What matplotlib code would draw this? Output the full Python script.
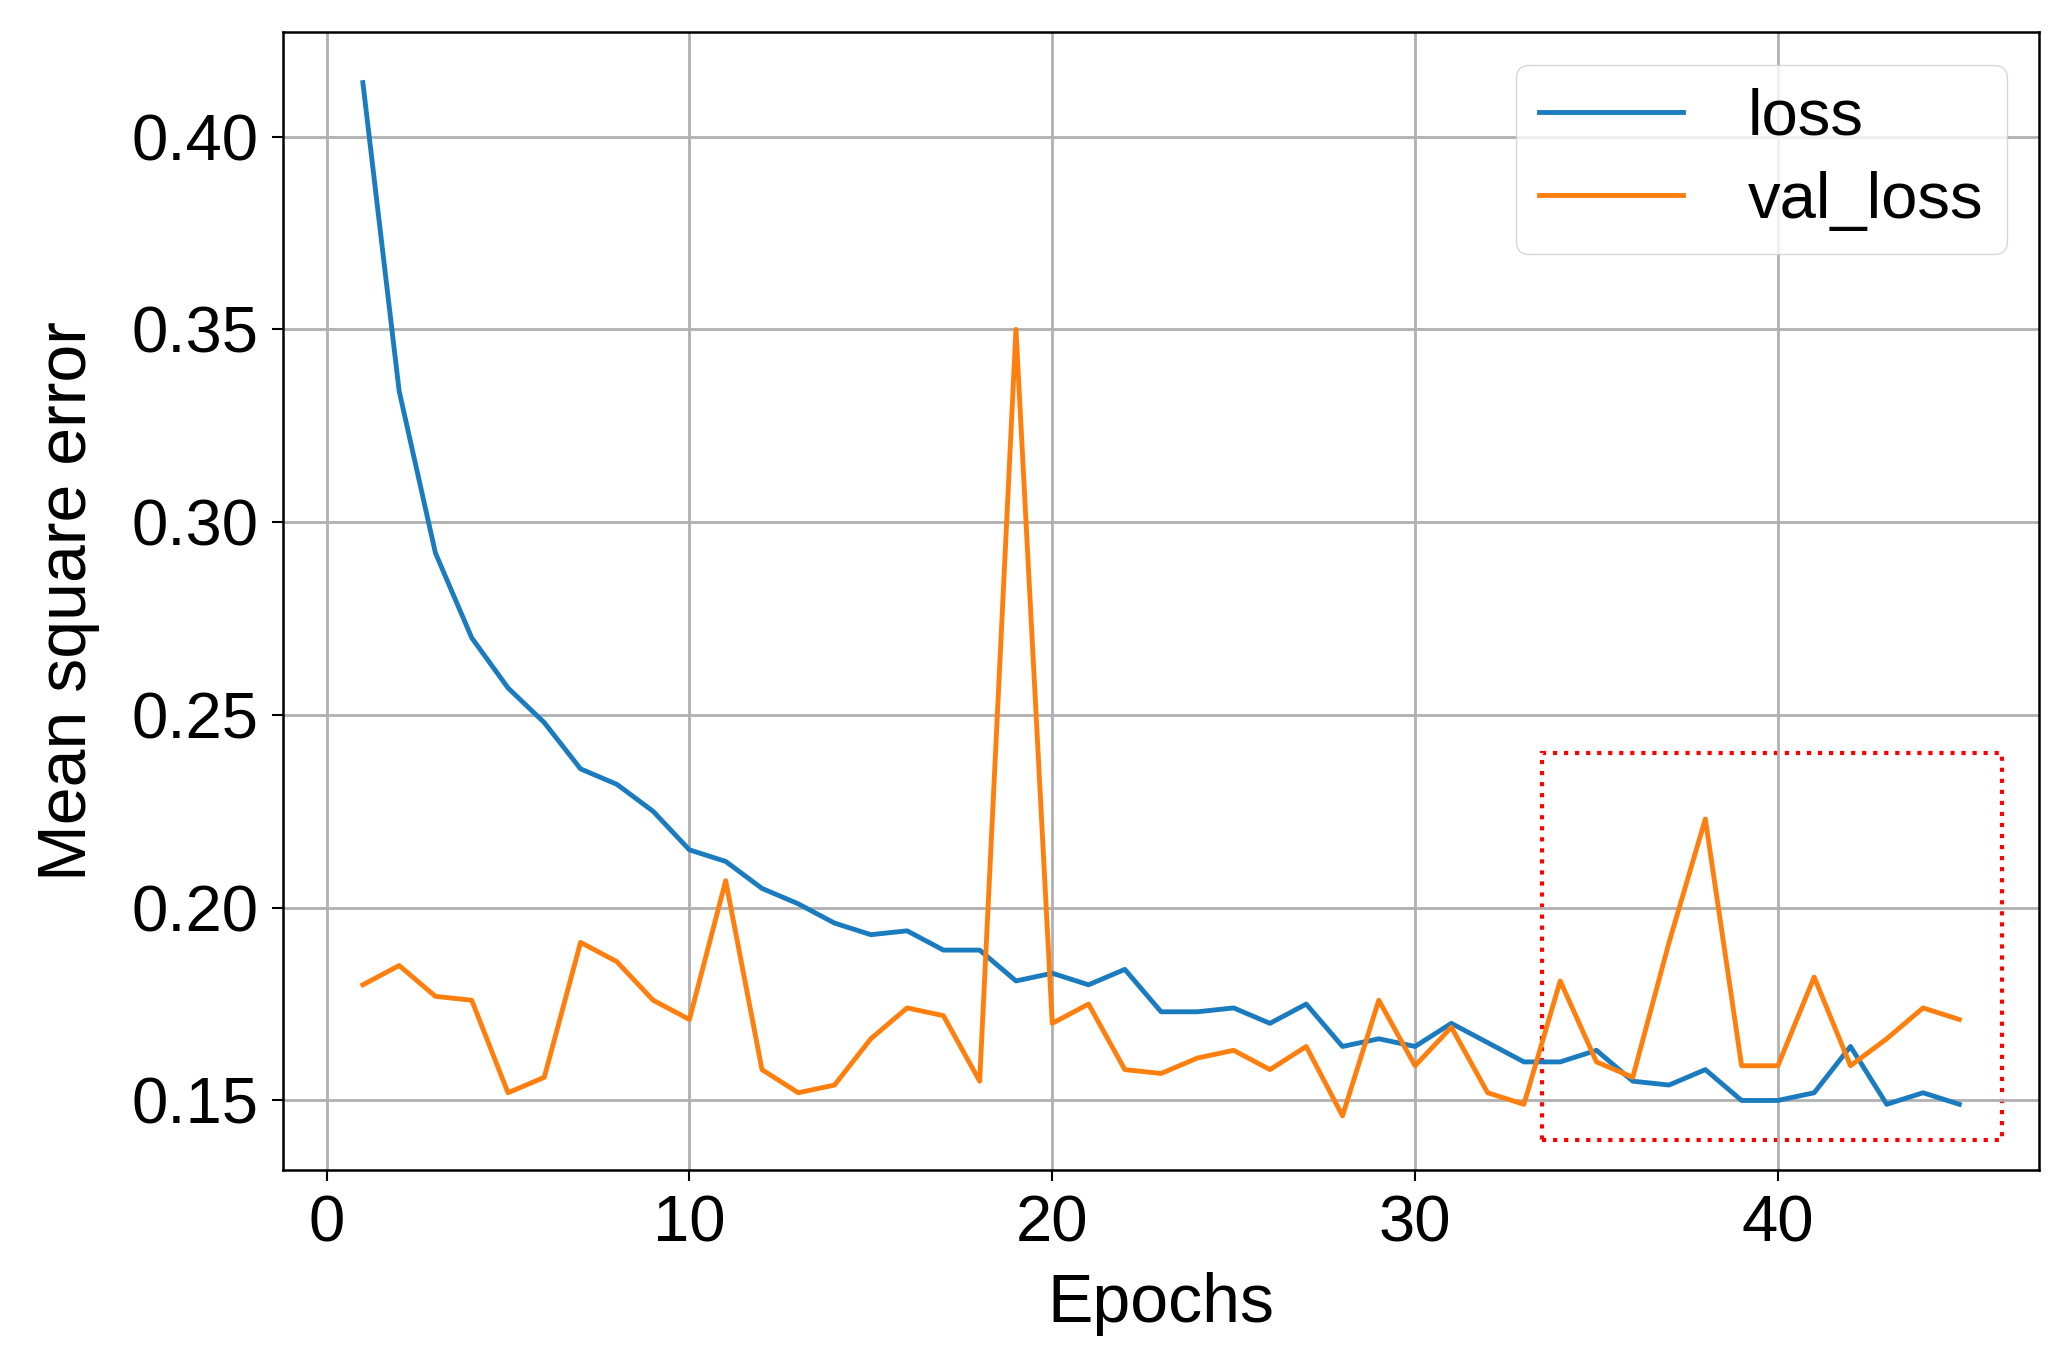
import matplotlib
matplotlib.use("Agg")
import matplotlib.pyplot as plt
from matplotlib.patches import Rectangle

epochs = list(range(1, 46))
loss = [0.414,0.334,0.292,0.270,0.257,0.248,0.236,0.232,0.225,0.215,
        0.212,0.205,0.201,0.196,0.193,0.194,0.189,0.189,0.181,0.183,
        0.180,0.184,0.173,0.173,0.174,0.170,0.175,0.164,0.166,0.164,
        0.170,0.165,0.160,0.160,0.163,0.155,0.154,0.158,0.150,0.150,
        0.152,0.164,0.149,0.152,0.149]
val_loss = [0.180,0.185,0.177,0.176,0.152,0.156,0.191,0.186,0.176,0.171,
            0.207,0.158,0.152,0.154,0.166,0.174,0.172,0.155,0.350,0.170,
            0.175,0.158,0.157,0.161,0.163,0.158,0.164,0.146,0.176,0.159,
            0.169,0.152,0.149,0.181,0.160,0.156,0.191,0.223,0.159,0.159,
            0.182,0.159,0.166,0.174,0.171]

plt.rcParams['font.family'] = ['Liberation Sans', 'DejaVu Sans']
fig = plt.figure(figsize=(20.66, 13.54), dpi=100)
ax = fig.add_axes([0.137, 0.136, 0.85, 0.84])
ax.plot(epochs, loss, color='#1a7bbf', lw=3.5, label='loss')
ax.plot(epochs, val_loss, color='#ff7f0e', lw=3.5, label='val_loss')
ax.set_xlim(-1.2, 47.2)
ax.set_ylim(0.132, 0.427)
ax.set_xticks([0, 10, 20, 30, 40])
ax.set_yticks([0.15, 0.20, 0.25, 0.30, 0.35, 0.40])
ax.set_yticklabels(['0.15', '0.20', '0.25', '0.30', '0.35', '0.40'])
ax.grid(True, color='#b0b0b0', lw=2)
ax.tick_params(labelsize=47, length=8, width=1.5, pad=10)
for s in ax.spines.values():
    s.set_linewidth(1.8)
ax.set_xlabel('Epochs', fontsize=49, labelpad=12)
ax.set_ylabel('Mean square error', fontsize=49, labelpad=22)
ax.add_patch(Rectangle((33.5, 0.1397), 12.67, 0.1003, fill=False,
                       edgecolor='red', ls=':', lw=3))
ax.legend(loc='upper right', fontsize=47, handlelength=2.2, borderpad=0.35,
          handletextpad=1.0, labelspacing=0.35)
fig.savefig('out.png', dpi=100)
